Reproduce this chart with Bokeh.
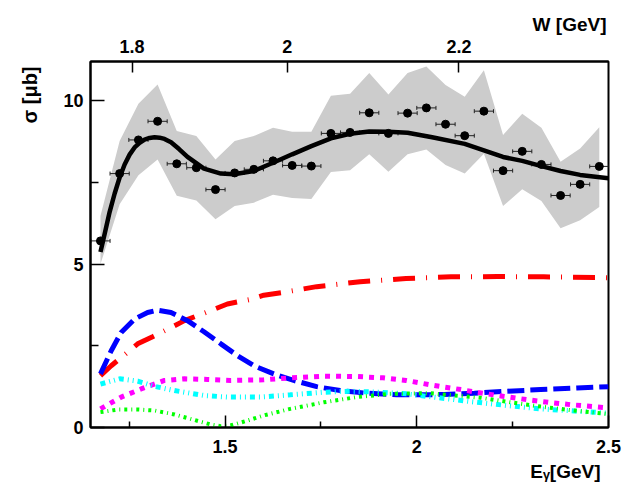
import math
from bokeh.plotting import figure
from bokeh.models import Range1d, LinearAxis, FixedTicker, CustomJSTickFormatter, Title
from bokeh.embed import file_html
from bokeh.resources import INLINE

# ---- data ----
E_PTS = [1.175, 1.225, 1.274, 1.324, 1.374, 1.425, 1.475, 1.525, 1.575,
         1.625, 1.675, 1.725, 1.776, 1.826, 1.876, 1.926, 1.976, 2.025,
         2.075, 2.125, 2.175, 2.225, 2.275, 2.325, 2.375, 2.426, 2.476]
SIG_PTS = [5.71, 7.77, 8.80, 9.37, 8.07, 7.95, 7.28, 7.79, 7.90,
           8.16, 8.02, 8.00, 9.00, 9.03, 9.63, 9.00, 9.62, 9.78,
           9.28, 8.93, 9.68, 7.86, 8.45, 8.05, 7.10, 7.44, 7.99]
BAND_HI = [6.47, 8.77, 9.91, 10.50, 9.07, 8.92, 8.20, 8.77, 8.92,
           9.17, 9.05, 9.05, 10.15, 10.21, 10.85, 10.19, 10.85, 11.05,
           10.48, 10.12, 10.93, 8.95, 9.60, 9.17, 8.13, 8.54, 9.19]
BAND_LO = [5.00, 6.83, 7.72, 8.20, 7.09, 6.95, 6.37, 6.78, 6.88,
           7.12, 7.02, 6.99, 7.82, 7.87, 8.36, 7.83, 8.36, 8.51,
           8.03, 7.77, 8.38, 6.78, 7.29, 6.93, 6.10, 6.34, 6.75]
E_ERR = 0.025

TOT_E = [1.175, 1.186, 1.199, 1.212, 1.225, 1.238, 1.251, 1.264, 1.277, 1.290,
         1.303, 1.316, 1.329, 1.342, 1.359, 1.380, 1.402, 1.445, 1.489, 1.523,
         1.575, 1.625, 1.675, 1.725, 1.776, 1.826, 1.876, 1.926, 1.976, 2.040,
         2.125, 2.175, 2.225, 2.275, 2.325, 2.375, 2.426, 2.500]
TOT_S = [5.37, 5.93, 6.60, 7.16, 7.65, 8.05, 8.35, 8.57, 8.71, 8.81,
         8.86, 8.88, 8.87, 8.83, 8.73, 8.52, 8.28, 7.92, 7.77, 7.75,
         7.85, 8.10, 8.36, 8.61, 8.85, 8.99, 9.06, 9.05, 9.02, 8.88,
         8.68, 8.48, 8.28, 8.16, 8.00, 7.85, 7.73, 7.63]

RED_E = [1.175, 1.203, 1.240, 1.272, 1.311, 1.342, 1.394, 1.450, 1.506, 1.562,
         1.601, 1.648, 1.739, 1.852, 1.972, 2.089, 2.210, 2.331, 2.470, 2.500]
RED_S = [1.59, 1.89, 2.25, 2.56, 2.78, 2.96, 3.27, 3.52, 3.78, 3.91,
         4.05, 4.13, 4.31, 4.46, 4.56, 4.61, 4.62, 4.61, 4.59, 4.58]

BLUE_E = [1.175, 1.203, 1.229, 1.264, 1.298, 1.324, 1.359, 1.402, 1.445, 1.489,
          1.532, 1.575, 1.627, 1.679, 1.739, 1.800, 1.869, 1.947, 2.025, 2.072,
          2.150, 2.237, 2.323, 2.418, 2.500]
BLUE_S = [1.64, 2.35, 2.91, 3.32, 3.52, 3.59, 3.52, 3.27, 2.93, 2.56,
          2.20, 1.89, 1.64, 1.44, 1.25, 1.13, 1.05, 1.00, 1.00, 1.01,
          1.05, 1.11, 1.16, 1.21, 1.25]

MAG_E = [1.175, 1.229, 1.281, 1.342, 1.394, 1.454, 1.514, 1.601, 1.670, 1.757,
         1.843, 1.912, 1.972, 2.033, 2.059, 2.115, 2.172, 2.228, 2.288, 2.344,
         2.400, 2.461, 2.500]
MAG_S = [0.57, 0.93, 1.18, 1.44, 1.49, 1.47, 1.44, 1.46, 1.52, 1.57,
         1.56, 1.52, 1.44, 1.31, 1.26, 1.16, 1.05, 0.95, 0.85, 0.77,
         0.70, 0.64, 0.60]

CYAN_E = [1.175, 1.225, 1.272, 1.316, 1.368, 1.445, 1.506, 1.592, 1.670, 1.757,
          1.826, 1.904, 1.972, 2.044, 2.142, 2.237, 2.323, 2.418, 2.500]
CYAN_S = [1.33, 1.49, 1.42, 1.26, 1.13, 0.98, 0.93, 0.93, 1.00, 1.08,
          1.11, 1.08, 1.03, 0.93, 0.79, 0.67, 0.57, 0.50, 0.44]

GREEN_E = [1.175, 1.221, 1.272, 1.316, 1.368, 1.420, 1.463, 1.489, 1.514, 1.558,
           1.601, 1.670, 1.757, 1.843, 1.929, 2.033, 2.167, 2.245, 2.323, 2.409,
           2.500]
GREEN_S = [0.47, 0.55, 0.55, 0.52, 0.40, 0.23, 0.09, 0.04, 0.06, 0.21,
           0.37, 0.57, 0.77, 0.93, 1.03, 1.05, 0.91, 0.77, 0.64, 0.52,
           0.41]

X_TICKS = [1.5, 2.0, 2.5]
X_MINOR = [1.25, 1.75, 2.25]
Y_TICKS = [0, 5, 10]
Y_MINOR = [2.5, 7.5]
W_TICKS = [1.8, 2.0, 2.2]
M_N = 0.938272

FONT = "Liberation Sans"

p = figure(width=633, height=494, output_backend="svg", toolbar_location=None,
           title=None,
           x_range=Range1d(1.149, 2.5), y_range=Range1d(0, 11.2),
           x_axis_location=None, y_axis_location=None,
           min_border_left=87, min_border_right=25, min_border_top=61,
           min_border_bottom=67)
p.xgrid.grid_line_color = None
p.ygrid.grid_line_color = None
p.outline_line_color = "black"
p.outline_line_width = 2
p.background_fill_color = "white"
p.border_fill_color = "white"

def style_axis(ax, tin, minin, standoff):
    ax.major_tick_in = tin
    ax.major_tick_out = 0
    ax.minor_tick_in = minin
    ax.minor_tick_out = 0
    ax.axis_line_width = 2
    ax.major_tick_line_width = 1.5
    ax.minor_tick_line_width = 1.5
    ax.major_label_standoff = standoff
    ax.major_label_text_font = FONT
    ax.major_label_text_font_style = "bold"
    ax.major_label_text_font_size = "18px"
    ax.major_label_text_color = "black"

xb = LinearAxis(ticker=FixedTicker(ticks=X_TICKS, minor_ticks=X_MINOR),
                formatter=CustomJSTickFormatter(code="return String(tick);"))
style_axis(xb, 12, 6, 12)
p.add_layout(xb, "below")

yl = LinearAxis(ticker=FixedTicker(ticks=Y_TICKS, minor_ticks=Y_MINOR),
                formatter=CustomJSTickFormatter(code="return String(tick);"))
style_axis(yl, 14, 8, 7)
p.add_layout(yl, "left")

w_pos = [(w * w - M_N * M_N) / (2 * M_N) for w in W_TICKS]
wfmt = CustomJSTickFormatter(
    args=dict(m=M_N),
    code="const w = Math.sqrt(m*m + 2*m*tick); return String(Math.round(w*10)/10);")
xt = LinearAxis(ticker=FixedTicker(ticks=w_pos, minor_ticks=[]), formatter=wfmt)
style_axis(xt, 11, 0, 9)
p.add_layout(xt, "above")

# axis titles as side-panel titles
def title(text, align, valign, offset, standoff, size="19px"):
    return Title(text=text, align=align, vertical_align=valign, offset=offset,
                 standoff=standoff, text_font=FONT, text_font_style="bold",
                 text_font_size=size, text_color="black")

p.add_layout(title("W [GeV]", "right", "bottom", 2, 4), "above")
p.add_layout(title("E\u1d67[GeV]", "right", "top", 8, 10), "below")
p.add_layout(title("σ [μb]", "left", "top", 304, 36, size="20px"), "left")

# band
p.varea(x=E_PTS, y1=BAND_LO, y2=BAND_HI, fill_color="#cccccc", fill_alpha=1.0)

# error bars and points
x0 = [e - E_ERR for e in E_PTS]
x1 = [e + E_ERR for e in E_PTS]
p.segment(x0=x0, y0=SIG_PTS, x1=x1, y1=SIG_PTS, line_color="#222222", line_width=1)
p.scatter(x=x0 + x1, y=SIG_PTS + SIG_PTS, marker="dash", angle=math.pi / 2,
          size=4, line_color="#222222", line_width=1)
p.scatter(x=E_PTS, y=SIG_PTS, size=8, fill_color="black", line_color="black")

# model curves
p.line(RED_E, RED_S, line_color="#ff0000", line_width=5, line_dash="22 11 1 11")
p.line(BLUE_E, BLUE_S, line_color="#0000ff", line_width=5, line_dash="17 6")
p.line(MAG_E, MAG_S, line_color="#ff00ff", line_width=5, line_dash="5 6")
p.line(CYAN_E, CYAN_S, line_color="#00ffff", line_width=5, line_dash="5 4 1 4 1 4")
p.line(GREEN_E, GREEN_S, line_color="#00ff00", line_width=4, line_dash="3 4 1 4")
p.line(TOT_E, TOT_S, line_color="black", line_width=4.5)

open("out.html", "w").write(file_html(p, INLINE))
